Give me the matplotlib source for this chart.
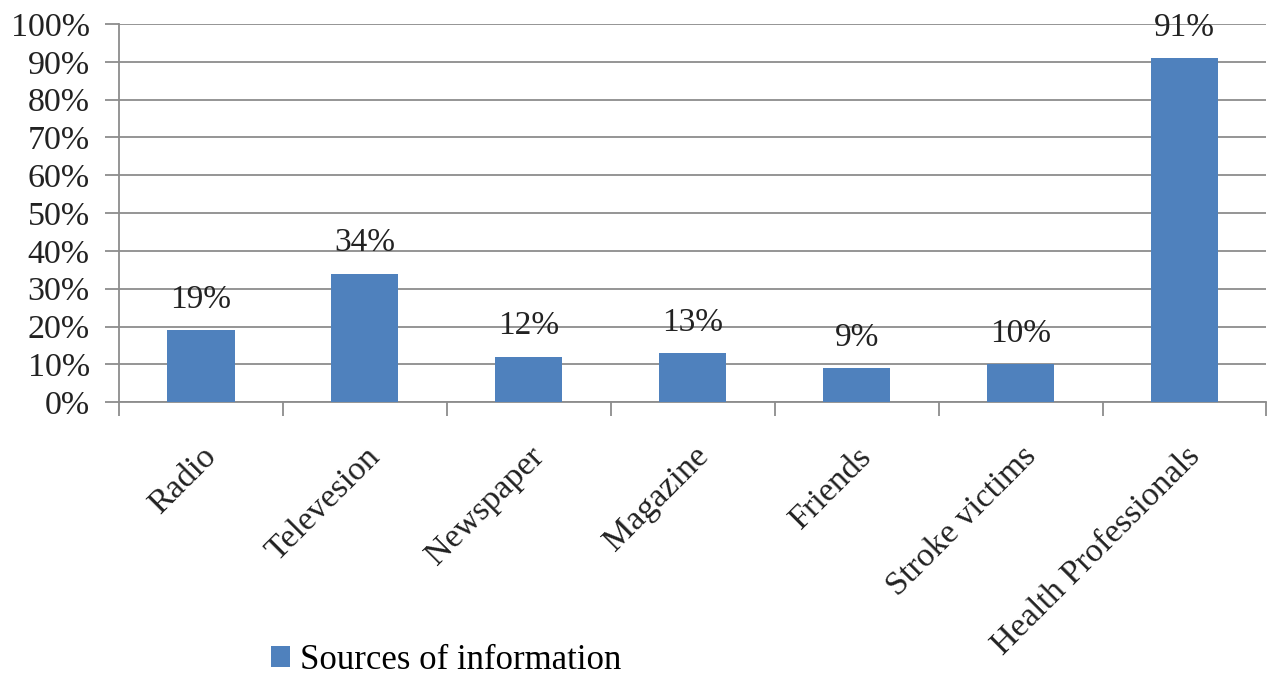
import matplotlib
matplotlib.use("Agg")
import matplotlib.pyplot as plt
import numpy as np

categories = ["Radio", "Televesion", "Newspaper", "Magazine", "Friends",
              "Stroke victims", "Health Professionals"]
values = [19, 34, 12, 13, 9, 10, 91]
labels = ["19%", "34%", "12%", "13%", "9%", "10%", "91%"]
yticks = list(range(0, 101, 10))
ytick_labels = [f"{t}%" for t in yticks]
series_name = "Sources of information"

plt.rcParams['font.family'] = ['Liberation Serif', 'DejaVu Serif']

fig = plt.figure(figsize=(12.68, 6.77), dpi=100)
ax = fig.add_axes([0.0938, 0.406, 0.905, 0.5585])

x = np.arange(len(categories))
bars = ax.bar(x, values, width=0.41, color="#4F81BD", zorder=3, label=series_name)

for xi, v, lab in zip(x, values, labels):
    ax.annotate(lab, (xi, v), xytext=(0, 11), textcoords="offset points",
                ha="center", va="bottom", fontsize=24, color="#222222", zorder=4)

ax.set_xlim(-0.5, len(categories) - 0.5)
ax.set_ylim(0, 100)
ax.set_yticks(yticks)
ax.set_yticklabels(ytick_labels, fontsize=24.5, color="#222222")
ax.yaxis.grid(True, color="#8c8c8c", linewidth=1.3, zorder=0)
ax.set_axisbelow(True)

ax.set_xticks(x)
ax.set_xticklabels(categories, rotation=45, ha="right", va="top",
                   rotation_mode="anchor", fontsize=24.5, color="#222222")
ax.tick_params(axis="x", length=0, pad=28)
ax.set_xticks(np.arange(-0.5, len(categories), 1), minor=True)
ax.tick_params(axis="x", which="minor", length=10, color="#8c8c8c", width=1.3)
ax.tick_params(axis="y", length=10, color="#8c8c8c", width=1.3, pad=11)

for s in ["top", "right"]:
    ax.spines[s].set_visible(False)
for s in ["left", "bottom"]:
    ax.spines[s].set_color("#8c8c8c")
    ax.spines[s].set_linewidth(1.3)

leg = fig.legend(handles=[bars], labels=[series_name], loc="center",
                 bbox_to_anchor=(0.352, 0.025), frameon=False, fontsize=25,
                 handlelength=0.55, handleheight=0.55, handletextpad=0.3)

fig.savefig("out.png", dpi=100)
